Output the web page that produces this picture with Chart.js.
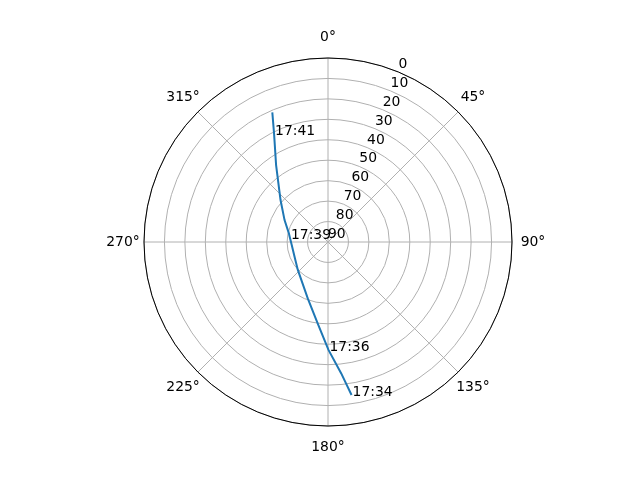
<!DOCTYPE html>
<html>
<head>
<meta charset="utf-8">
<script src="https://cdn.jsdelivr.net/npm/chart.js@4"></script>
<style>
html, body { margin: 0; padding: 0; background: #fff; }
canvas { display: block; }
</style>
</head>
<body>
<canvas id="sky" width="640" height="480"></canvas>
<script>
// pass track: azimuth clockwise from north, elevation in degrees
const azimuth = [171.2, 174.3, 179.7, 187.2, 199.7, 227.2, 242.7, 256.2, 265.3, 276.0, 282.5, 296.8, 311.5, 326.1, 333.4, 336.8];
const elevation = [14.3, 25.4, 37.2, 49.9, 60.7, 69.9, 71.9, 72.4, 72.2, 71.3, 70.4, 66.2, 59.0, 44.6, 30.9, 21.0];
const timeLabels = ['17:34', '', '17:36', '', '', '', '', '', '', '17:39', '', '', '', '', '17:41', ''];
const angleTicks = [0, 45, 90, 135, 180, 225, 270, 315];
const elevTicks = [0, 10, 20, 30, 40, 50, 60, 70, 80, 90];

const PER_DEG = 4; // labels per degree of azimuth
const STEPS = 360 * PER_DEG;
const labels = [];
const track = [];
for (let i = 0; i < STEPS; i++) {
    labels.push(i / PER_DEG);
    track.push(null);
}
const trackIdx = azimuth.map(a => Math.round(a * PER_DEG) % STEPS);
trackIdx.forEach((k, i) => { track[k] = elevation[i]; });

const FONT = '13.9px "DejaVu Sans"';

const polarDecor = {
    id: 'polarDecor',
    afterDatasetsUpdate(chart) {
        // radar lines are always closed, the pass track is not
        const line = chart.getDatasetMeta(0).dataset;
        line._loop = false;
        delete line._segments;
        delete line._path;
    },
    beforeDatasetsDraw(chart) {
        const r = chart.scales.r;
        const ctx = chart.ctx;
        ctx.save();
        ctx.beginPath();
        ctx.arc(r.xCenter, r.yCenter, r.drawingArea, 0, Math.PI * 2);
        ctx.strokeStyle = '#000';
        ctx.lineWidth = 1;
        ctx.stroke();
        ctx.restore();
    },
    afterDatasetsDraw(chart) {
        const r = chart.scales.r;
        const ctx = chart.ctx;
        ctx.save();
        ctx.font = FONT;
        ctx.fillStyle = '#000';

        // azimuth labels
        ctx.textAlign = 'center';
        ctx.textBaseline = 'middle';
        angleTicks.forEach(a => {
            const p = r.getPointPosition(a * PER_DEG, r.drawingArea + 21);
            ctx.fillText(a + '°', p.x, p.y);
        });

        // elevation labels along 22.5°
        ctx.textAlign = 'left';
        ctx.textBaseline = 'alphabetic';
        elevTicks.forEach(v => {
            const p = r.getPointPosition(22.5 * PER_DEG, r.getDistanceFromCenterForValue(v));
            ctx.fillText(String(v), p.x, p.y - 4);
        });

        // time marks
        const pts = chart.getDatasetMeta(0).data;
        timeLabels.forEach((t, i) => {
            if (!t) return;
            const el = pts[trackIdx[i]];
            ctx.fillText(t, el.x + 1, el.y + 1);
        });
        ctx.restore();
    }
};

new Chart(document.getElementById('sky'), {
    type: 'radar',
    data: {
        labels: labels,
        datasets: [{
            data: track,
            borderColor: '#1f77b4',
            borderWidth: 2,
            pointRadius: 0,
            fill: false,
            spanGaps: true
        }]
    },
    options: {
        responsive: false,
        animation: false,
        events: [],
        devicePixelRatio: 1,
        layout: { padding: { top: 58, bottom: 53, left: 17, right: 0 } },
        plugins: {
            legend: { display: false },
            tooltip: { enabled: false }
        },
        scales: {
            r: {
                min: 0,
                max: 90,
                reverse: true,
                ticks: { display: false, stepSize: 10 },
                grid: { circular: true, color: '#b0b0b0', lineWidth: 1 },
                angleLines: {
                    color: '#b0b0b0',
                    lineWidth: c => (c.index % (45 * PER_DEG) === 0 ? 1 : 0)
                },
                pointLabels: { display: false }
            }
        }
    },
    plugins: [polarDecor]
});
</script>
</body>
</html>
